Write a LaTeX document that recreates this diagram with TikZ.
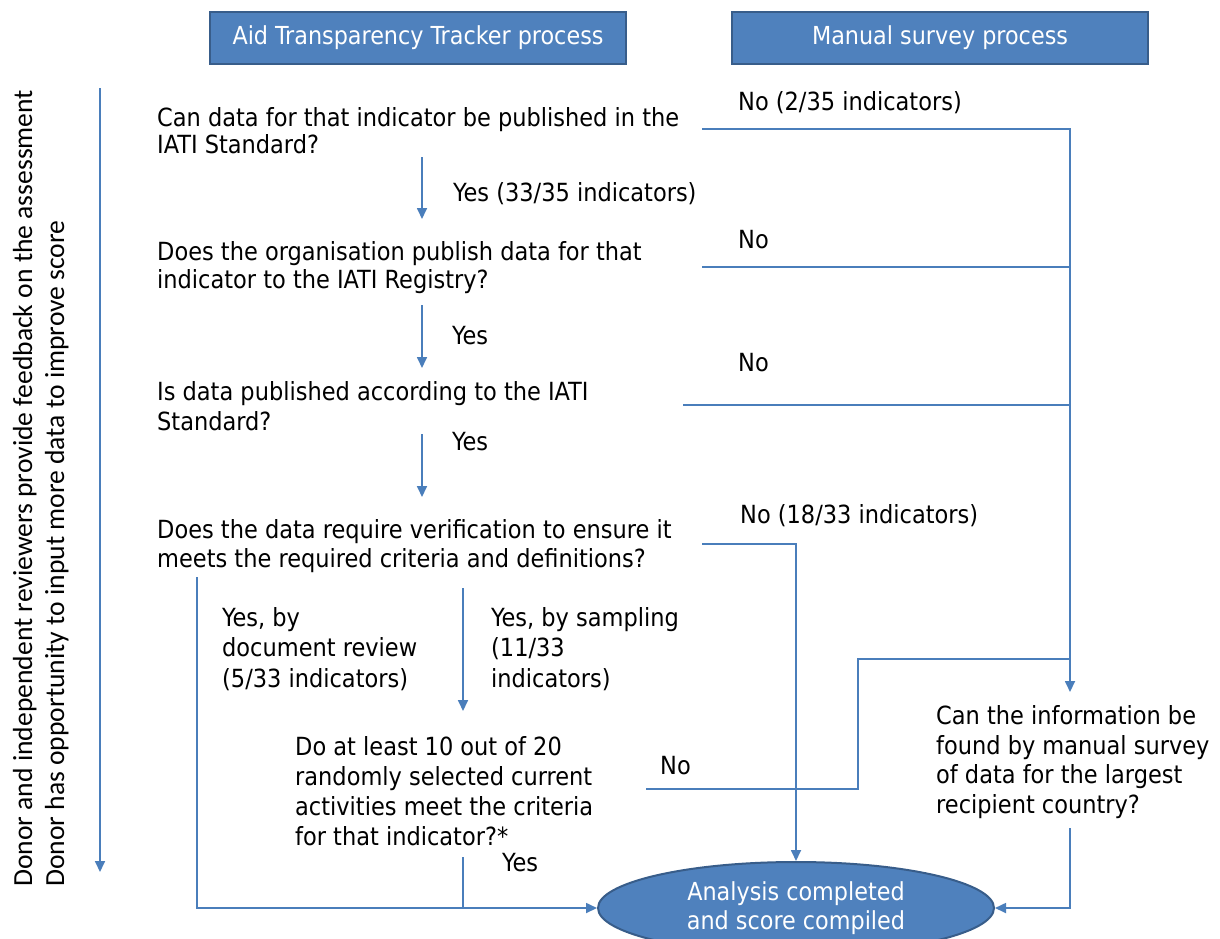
\documentclass[tikz,border=0pt]{standalone}
\usepackage{fontspec}
\setmainfont{DejaVu Sans Condensed}
\newfontfamily\calib{Carlito}
\usetikzlibrary{arrows.meta,shapes.geometric}
\definecolor{hdr}{HTML}{4F81BD}
\definecolor{hdrb}{HTML}{385D8A}
\definecolor{ln}{HTML}{4A7EBB}
\begin{document}
\begin{tikzpicture}[x=1pt,y=-1pt,
  txt/.style={font=\fontsize{25}{29.5}\selectfont, align=left, anchor=west, inner sep=0pt},
  hdrbox/.style={draw=hdrb, line width=2pt, fill=hdr, text=white, minimum width=416pt, minimum height=52pt, inner sep=0pt, font=\fontsize{24.8}{26}\selectfont},
  conn/.style={draw=ln, line width=1.7pt},
  arr/.style={conn, -{Triangle[length=11pt,width=10pt]}},
  side/.style={font=\calib\fontsize{27.6}{30}\selectfont, rotate=90, anchor=base west, inner sep=0pt}]
\useasboundingbox (0,0) rectangle (1220,938);
\fill[white] (0,0) rectangle (1220,938);
% headers
\node[hdrbox] (h1) at (418,38) {Aid Transparency Tracker process};
\node[hdrbox] (h2) at (940,38) {Manual survey process};
% side texts
\node[side] (s1) at (32,887) {Donor and independent reviewers provide feedback on the assessment};
\node[side] (s2) at (64,887) {Donor has opportunity to input more data to improve score};
\coordinate (sa) at (100,88);
\coordinate (sb) at (100,872);
\draw[arr] (sa) -- (sb);
% questions
\node[txt, font=\fontsize{25}{27}\selectfont] (q1) at (157,131) {Can data for that indicator be published in the\\IATI Standard?};
\node[txt, font=\fontsize{25}{28}\selectfont] (q2) at (157,268) {Does the organisation publish data for that\\indicator to the IATI Registry?};
\node[txt] (q3) at (157,406) {Is data published according to the IATI\\Standard?};
\node[txt] (q4) at (157,546) {Does the data require verification to ensure it\\meets the required criteria and definitions?};
\node[txt, font=\fontsize{25}{30}\selectfont] (q5) at (295,791) {Do at least 10 out of 20\\randomly selected current\\activities meet the criteria\\for that indicator?*};
\node[txt] (q6) at (936,762) {Can the information be\\found by manual survey\\of data for the largest\\recipient country?};
% labels
\node[txt] (l1) at (738,103) {No (2/35 indicators)};
\node[txt] (l2) at (453,194) {Yes (33/35 indicators)};
\node[txt] (l3) at (738,240) {No};
\node[txt] (l4) at (452,336) {Yes};
\node[txt] (l5) at (738,363) {No};
\node[txt] (l6) at (452,442) {Yes};
\node[txt] (l7) at (740,516) {No (18/33 indicators)};
\node[txt, font=\fontsize{25}{30.5}\selectfont] (l8) at (222,649) {Yes, by\\document review\\(5/33 indicators)};
\node[txt, font=\fontsize{25}{30.5}\selectfont] (l9) at (491,649) {Yes, by sampling\\(11/33\\indicators)};
\node[txt] (l10) at (660,766) {No};
\node[txt] (l11) at (502,863) {Yes};
% end ellipse
\node[ellipse, draw=hdrb, line width=2pt, fill=hdr, text=white, minimum width=396pt, minimum height=92pt, inner sep=0pt, align=center, font=\fontsize{24.8}{29.5}\selectfont] (end) at (796,908) {Analysis completed\\and score compiled};
% coordinates
\coordinate (a1s) at (422,157); \coordinate (a1e) at (422,219);
\coordinate (a2s) at (422,305); \coordinate (a2e) at (422,368);
\coordinate (a3s) at (422,434); \coordinate (a3e) at (422,497);
\coordinate (a4s) at (463,588); \coordinate (a4e) at (463,711);
\coordinate (n1) at (702,129); \coordinate (n2) at (702,267); \coordinate (n3) at (683,405);
\coordinate (trunk) at (1070,129); \coordinate (trunkend) at (1070,692);
\coordinate (n4) at (702,544); \coordinate (n4c) at (796,544);
\coordinate (n5) at (646,789); \coordinate (n5a) at (858,789); \coordinate (n5b) at (858,659); \coordinate (n5c) at (1070,659);
\coordinate (yl) at (197,577);
\coordinate (y5) at (463,857); \coordinate (y5b) at (463,908);
\coordinate (q6out) at (1070,828);
% connectors
\draw[arr] (a1s) -- (a1e);
\draw[arr] (a2s) -- (a2e);
\draw[arr] (a3s) -- (a3e);
\draw[arr] (a4s) -- (a4e);
\draw[arr] (n1) -- (trunk) -- (trunkend);
\draw[conn] (n2) -- (1070,267);
\draw[conn] (n3) -- (1070,405);
\draw[arr] (n4) -- (n4c) -- (end.north);
\draw[conn] (n5) -- (n5a) -- (n5b) -- (n5c);
\draw[arr] (yl) |- (end.west);
\draw[conn] (y5) -- (y5b);
\draw[arr] (q6out) |- (end.east);
\end{tikzpicture}
\end{document}
